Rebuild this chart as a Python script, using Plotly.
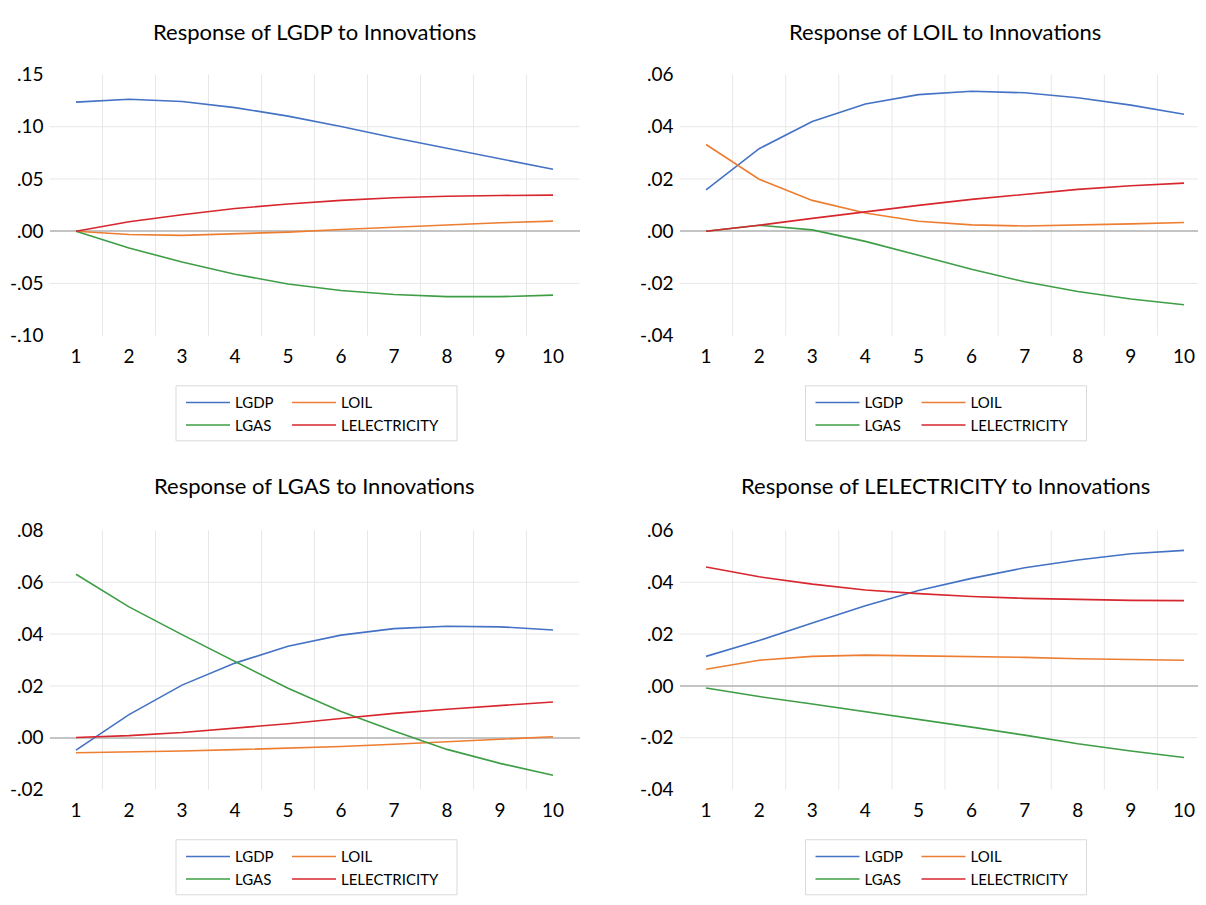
import plotly.graph_objects as go

# ---------------- data ----------------
periods = [1, 2, 3, 4, 5, 6, 7, 8, 9, 10]
series_names = ["LGDP", "LOIL", "LGAS", "LELECTRICITY"]

# Response of LGDP to innovations
lgdp_to_lgdp = [0.1236, 0.1264, 0.1242, 0.1183, 0.1102, 0.1003, 0.0894, 0.0792, 0.0689, 0.0593]
lgdp_to_loil = [0.0, -0.0031, -0.0040, -0.0028, -0.0009, 0.0016, 0.0040, 0.0062, 0.0081, 0.0096]
lgdp_to_lgas = [0.0, -0.0161, -0.0295, -0.0413, -0.0506, -0.0568, -0.0606, -0.0627, -0.0627, -0.0612]
lgdp_to_lelec = [0.0, 0.0090, 0.0158, 0.0217, 0.0261, 0.0295, 0.0320, 0.0335, 0.0342, 0.0345]

# Response of LOIL to innovations
loil_to_lgdp = [0.0158, 0.0316, 0.0420, 0.0487, 0.0523, 0.0536, 0.0530, 0.0511, 0.0483, 0.0448]
loil_to_loil = [0.0332, 0.0199, 0.0118, 0.0070, 0.0038, 0.0024, 0.0020, 0.0023, 0.0028, 0.0033]
loil_to_lgas = [0.0, 0.0023, 0.0005, -0.0039, -0.0092, -0.0146, -0.0194, -0.0231, -0.0260, -0.0282]
loil_to_lelec = [0.0, 0.0023, 0.0049, 0.0075, 0.0099, 0.0122, 0.0142, 0.0160, 0.0174, 0.0184]

# Response of LGAS to innovations
lgas_to_lgdp = [-0.0048, 0.0089, 0.0203, 0.0288, 0.0353, 0.0396, 0.0421, 0.0430, 0.0428, 0.0416]
lgas_to_loil = [-0.0058, -0.0055, -0.0051, -0.0046, -0.0040, -0.0034, -0.0025, -0.0016, -0.0006, 0.0004]
lgas_to_lgas = [0.0631, 0.0505, 0.0398, 0.0293, 0.0191, 0.0101, 0.0026, -0.0045, -0.0099, -0.0145]
lgas_to_lelec = [0.0001, 0.0008, 0.0020, 0.0036, 0.0054, 0.0074, 0.0094, 0.0110, 0.0124, 0.0138]

# Response of LELECTRICITY to innovations
lelec_to_lgdp = [0.0114, 0.0175, 0.0243, 0.0309, 0.0368, 0.0415, 0.0456, 0.0486, 0.0510, 0.0523]
lelec_to_loil = [0.0064, 0.0099, 0.0114, 0.0119, 0.0116, 0.0114, 0.0110, 0.0105, 0.0101, 0.0099]
lelec_to_lgas = [-0.0008, -0.0041, -0.0070, -0.0099, -0.0128, -0.0159, -0.0190, -0.0223, -0.0251, -0.0276]
lelec_to_lelec = [0.0459, 0.0421, 0.0393, 0.0370, 0.0356, 0.0345, 0.0338, 0.0333, 0.0330, 0.0329]

panel_titles = [
    "Response of LGDP to Innovations",
    "Response of LOIL to Innovations",
    "Response of LGAS to Innovations",
    "Response of LELECTRICITY to Innovations",
]

ytick_vals_1 = [-0.10, -0.05, 0.00, 0.05, 0.10, 0.15]
ytick_text_1 = ["-.10", "-.05", ".00", ".05", ".10", ".15"]
ytick_vals_2 = [-0.04, -0.02, 0.00, 0.02, 0.04, 0.06]
ytick_text_2 = ["-.04", "-.02", ".00", ".02", ".04", ".06"]
ytick_vals_3 = [-0.02, 0.00, 0.02, 0.04, 0.06, 0.08]
ytick_text_3 = ["-.02", ".00", ".02", ".04", ".06", ".08"]
ytick_vals_4 = [-0.04, -0.02, 0.00, 0.02, 0.04, 0.06]
ytick_text_4 = ["-.04", "-.02", ".00", ".02", ".04", ".06"]

# ---------------- style ----------------
PAGE_MARGIN = 8          # default body margin of the html page
W, H = 1206 - 2 * PAGE_MARGIN, 905 - 2 * PAGE_MARGIN
FONT = "Lato"
colors = {"LGDP": "#4472C4", "LOIL": "#ED7D31", "LGAS": "#3E9E45", "LELECTRICITY": "#D7262D"}
GRID = "#e7e7e7"

def px_x(p):
    return (p - PAGE_MARGIN) / W

def px_y(p):
    return 1 - (p - PAGE_MARGIN) / H

panels = [
    dict(data=[lgdp_to_lgdp, lgdp_to_loil, lgdp_to_lgas, lgdp_to_lelec],
         tv=ytick_vals_1, tt=ytick_text_1, left=49.5, right=579.5, xr=[0.5, 10.5],
         top=64, bottom=332, center=314.5, dx=0, dy=0),
    dict(data=[loil_to_lgdp, loil_to_loil, loil_to_lgas, loil_to_lelec],
         tv=ytick_vals_2, tt=ytick_text_2, left=679.5, right=1198, xr=[0.5, 10.5 - 12.5 / 53],
         top=64, bottom=332, center=945, dx=629.5, dy=0),
    dict(data=[lgas_to_lgdp, lgas_to_loil, lgas_to_lgas, lgas_to_lelec],
         tv=ytick_vals_3, tt=ytick_text_3, left=49.5, right=579.5, xr=[0.5, 10.5],
         top=532, bottom=798, center=314.5, dx=0, dy=466),
    dict(data=[lelec_to_lgdp, lelec_to_loil, lelec_to_lgas, lelec_to_lelec],
         tv=ytick_vals_4, tt=ytick_text_4, left=679.5, right=1198, xr=[0.5, 10.5 - 12.5 / 53],
         top=532, bottom=798, center=945, dx=629.5, dy=466),
]

fig = go.Figure()
layout = dict(
    width=W, height=H, margin=dict(l=0, r=0, t=0, b=0),
    paper_bgcolor="white", plot_bgcolor="white",
    font=dict(family=FONT, color="#000000", size=18),
    showlegend=True,
)
shapes = []
annotations = []

for i, p in enumerate(panels, start=1):
    xa = "x" if i == 1 else f"x{i}"
    ya = "y" if i == 1 else f"y{i}"
    xkey = "xaxis" if i == 1 else f"xaxis{i}"
    ykey = "yaxis" if i == 1 else f"yaxis{i}"
    legA = f"legend{2 * i - 1}" if i > 1 else "legend"
    legB = f"legend{2 * i}"
    for name, vals in zip(series_names, p["data"]):
        leg = legA if name in ("LGDP", "LGAS") else legB
        fig.add_trace(go.Scatter(
            x=periods, y=vals, mode="lines", name=name,
            line=dict(color=colors[name], width=1.6),
            xaxis=xa, yaxis=ya, legend=leg, hoverinfo="x+y+name",
        ))
    layout[xkey] = dict(
        domain=[px_x(p["left"]), px_x(p["right"])], anchor=ya,
        range=p["xr"], tickvals=periods, ticktext=[str(v) for v in periods],
        showgrid=False, zeroline=False, showline=False, ticks="",
        ticklabelstandoff=7, tickfont=dict(size=19, family=FONT),
        fixedrange=True,
    )
    layout[ykey] = dict(
        domain=[px_y(p["bottom"]), px_y(p["top"])], anchor=xa,
        range=[p["tv"][0], p["tv"][-1]], tickvals=p["tv"], ticktext=p["tt"],
        showgrid=False, zeroline=True, zerolinecolor="#c4c4c4", zerolinewidth=1.6,
        showline=False, ticks="", ticklabelstandoff=5,
        tickfont=dict(size=19, family=FONT), fixedrange=True,
    )
    # horizontal gridlines (interior ticks only)
    for v in p["tv"][1:-1]:
        if abs(v) < 1e-12:
            continue
        shapes.append(dict(type="line", xref=f"{xa} domain", yref=ya, x0=0, x1=1, y0=v, y1=v,
                           line=dict(color=GRID, width=1), layer="below"))
    # vertical gridlines between categories
    for k in periods[:-1]:
        shapes.append(dict(type="line", xref=xa, yref=f"{ya} domain", x0=k + 0.5, x1=k + 0.5,
                           y0=0, y1=1, line=dict(color=GRID, width=1), layer="below"))
    # title
    annotations.append(dict(text=panel_titles[i - 1], xref="paper", yref="paper",
                            x=px_x(p["center"]), y=px_y(19.5 + p["dy"]), xanchor="center",
                            yanchor="middle", showarrow=False,
                            font=dict(size=22, family=FONT, color="#000000")))
    # legend box
    shapes.append(dict(type="rect", xref="paper", yref="paper",
                       x0=px_x(176 + p["dx"]), x1=px_x(457 + p["dx"]),
                       y0=px_y(440 + p["dy"]), y1=px_y(383.5 + p["dy"]),
                       line=dict(color="#d9d9d9", width=1), fillcolor="rgba(0,0,0,0)"))
    for key, lx in ((legA, 181), (legB, 287)):
        layout[key] = dict(
            x=px_x(lx + p["dx"]), y=px_y(384 + p["dy"]), xanchor="left", yanchor="top",
            orientation="v", bgcolor="rgba(0,0,0,0)", borderwidth=0,
            font=dict(size=15, family=FONT, color="#000000"),
            itemwidth=44, tracegroupgap=0,
        )

layout["shapes"] = shapes
layout["annotations"] = annotations
fig.update_layout(**layout)
fig.write_html("out.html", config={"displayModeBar": False})
